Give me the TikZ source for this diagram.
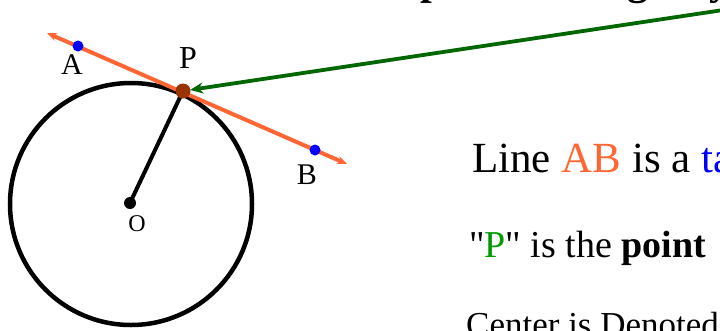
\documentclass[tikz,border=0pt]{standalone}
\usepackage{fontspec}
\setmainfont{Liberation Serif}[Ligatures=TeXOff]
\usetikzlibrary{arrows.meta}
\usepackage{xcolor}
\definecolor{tanorange}{HTML}{FF6633}
\definecolor{pointbrown}{HTML}{993300}
\definecolor{arrowgreen}{HTML}{006600}
\definecolor{labelgreen}{HTML}{009900}

\begin{document}
\begin{tikzpicture}[
    x=1pt, y=-1pt,
    dot/.style={circle, fill, inner sep=0pt, minimum size=#1},
    lbl/.style={inner sep=0pt, font=\fontsize{#1}{#1}\selectfont},
    txt/.style={anchor=base west, inner sep=0pt, font=\fontsize{#1}{#1}\selectfont},
    tanline/.style={{Stealth[length=10pt, width=8pt]}-{Stealth[length=10pt, width=8pt]}, line width=4pt, tanorange},
    arr/.style={-{Stealth[length=13pt, width=11pt]}, line width=3.8pt, arrowgreen},
]
\useasboundingbox (0,0) rectangle (720,330);
\clip (0,0) rectangle (720,330);

\draw[line width=4.5pt] (131,204) circle[radius=121pt];

\coordinate (tl) at (47,33);
\coordinate (tr) at (347,164);
\coordinate (src) at (730,9);

\node[dot=12pt, black] (O) at (130,203) {};
\node[dot=14pt, pointbrown] (P) at (183,91) {};

\draw[line width=4pt] (O.center) -- (P.center);
\draw[tanline] (tl) -- (tr);
\node[dot=15pt, pointbrown] at (P) {};
\node[dot=11pt, blue] (A) at (78,46) {};
\node[dot=11pt, blue] (B) at (315,150) {};

\draw[arr] (src) -- (P);

\node[lbl=30] (labA) at (72,65) {A};
\node[lbl=32] (labP) at (188,58) {P};
\node[lbl=30] (labB) at (307,175) {B};
\node[lbl=24] (labO) at (137,224) {O};

\node[txt=42, font=\fontsize{42}{42}\selectfont\bfseries] (top) at (420,-6) {point of tangency};
\node[txt=43] (line1) at (472,172) {Line \textcolor{tanorange}{AB} is a \textcolor{blue}{ta}};
\node[txt=38] (line2) at (469,257) {"\textcolor{labelgreen}{P}" is the \textbf{point}};
\node[txt=35] (line3) at (466,336) {Center is Denoted};

\end{tikzpicture}
\end{document}
